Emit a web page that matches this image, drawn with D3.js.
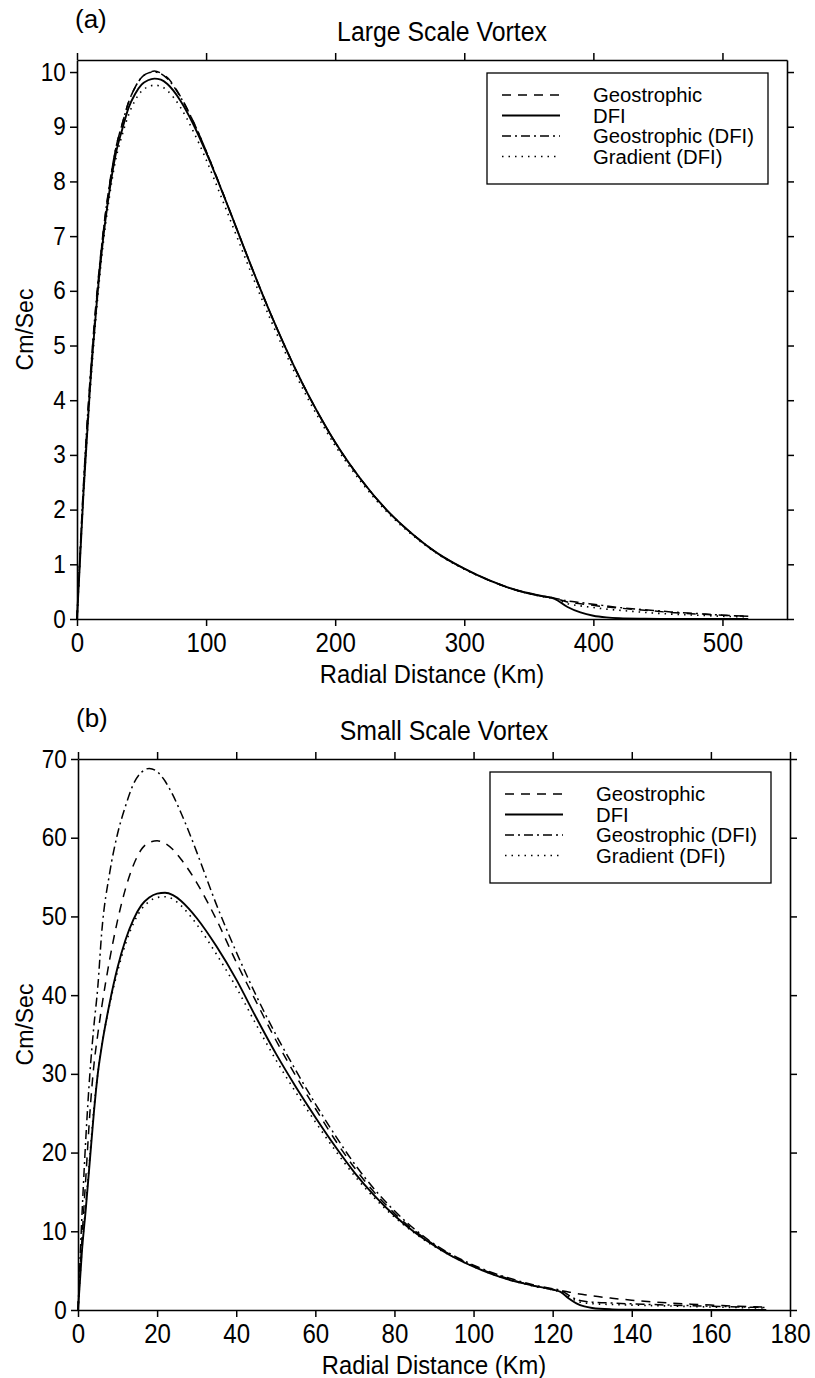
<!DOCTYPE html>
<html>
<head>
<meta charset="utf-8">
<script src="https://cdn.jsdelivr.net/npm/d3@7/dist/d3.min.js"></script>
<style>
body { margin: 0; background: #fff; }
text { font-family: "Liberation Sans", Arial, Helvetica, sans-serif; fill: #000; }
</style>
</head>
<body>
<svg id="chart" width="815" height="1378"></svg>
<script>
var seriesNames = ["Geostrophic", "DFI", "Geostrophic (DFI)", "Gradient (DFI)"];

// (a) large scale vortex, km / cm per sec
var largeX = [0, 5, 10, 15, 20, 25, 30, 35, 40, 45, 50, 55, 60, 65, 70, 80, 90, 100, 110, 120, 130, 140, 150, 160, 170, 180, 190, 200, 220, 240, 260, 280, 300, 320, 340, 360, 370, 380, 390, 400, 410, 420, 440, 460, 480, 500, 520];
var largeGeo = [0, 2.4, 4.3, 5.8, 7.0, 7.9, 8.6, 9.05, 9.45, 9.72, 9.9, 9.98, 10.02, 9.98, 9.9, 9.56, 9.1, 8.56, 7.97, 7.36, 6.75, 6.15, 5.58, 5.04, 4.53, 4.06, 3.63, 3.23, 2.55, 1.99, 1.55, 1.19, 0.92, 0.7, 0.53, 0.42, 0.38, 0.31, 0.28, 0.25, 0.22, 0.2, 0.16, 0.12, 0.09, 0.07, 0.05];
var largeDfi = [0, 2.3, 4.2, 5.7, 6.9, 7.8, 8.5, 8.95, 9.35, 9.6, 9.77, 9.85, 9.88, 9.86, 9.78, 9.48, 9.05, 8.53, 7.96, 7.36, 6.75, 6.15, 5.58, 5.04, 4.53, 4.06, 3.63, 3.23, 2.55, 1.99, 1.55, 1.19, 0.92, 0.7, 0.53, 0.42, 0.37, 0.22, 0.12, 0.06, 0.03, 0.015, 0.005, 0, 0, 0, 0];
var largeGeoDfi = [0, 2.45, 4.35, 5.85, 7.02, 7.92, 8.6, 9.05, 9.45, 9.72, 9.9, 9.98, 10.0, 9.97, 9.88, 9.55, 9.1, 8.56, 7.97, 7.36, 6.75, 6.15, 5.58, 5.04, 4.53, 4.06, 3.63, 3.23, 2.55, 1.99, 1.55, 1.19, 0.92, 0.7, 0.53, 0.42, 0.38, 0.33, 0.3, 0.27, 0.24, 0.21, 0.17, 0.13, 0.1, 0.07, 0.05];
var largeGrad = [0, 2.25, 4.1, 5.6, 6.8, 7.7, 8.4, 8.85, 9.22, 9.48, 9.65, 9.73, 9.76, 9.74, 9.66, 9.36, 8.92, 8.4, 7.82, 7.22, 6.62, 6.03, 5.47, 4.94, 4.44, 3.98, 3.56, 3.17, 2.51, 1.96, 1.53, 1.18, 0.91, 0.7, 0.53, 0.41, 0.37, 0.28, 0.24, 0.21, 0.18, 0.16, 0.12, 0.09, 0.07, 0.05, 0.04];
var largeXTicks = [0, 100, 200, 300, 400, 500];
var largeYTicks = [0, 1, 2, 3, 4, 5, 6, 7, 8, 9, 10];

// (b) small scale vortex
var smallX = [0, 1, 2, 3, 4, 5, 6, 8, 10, 12, 14, 16, 18, 20, 22, 24, 26, 28, 30, 35, 40, 45, 50, 55, 60, 65, 70, 75, 80, 85, 90, 95, 100, 105, 110, 115, 120, 122, 124, 126, 128, 130, 135, 140, 145, 150, 155, 160, 165, 170, 174];
var smallGeo = [0, 9, 17, 25, 31, 35, 38.5, 44.5, 49.5, 53.5, 56.5, 58.5, 59.4, 59.6, 59.3, 58.5, 57.3, 55.9, 54.3, 49.6, 44.2, 39.2, 34.3, 29.8, 25.6, 21.6, 18.0, 14.9, 12.3, 10.1, 8.3, 6.8, 5.6, 4.6, 3.8, 3.1, 2.6, 2.45, 2.3, 2.1, 1.95, 1.8, 1.5, 1.25, 1.05, 0.88, 0.74, 0.62, 0.52, 0.42, 0.36];
var smallDfi = [0, 7.5, 13, 19, 25, 30, 33.5, 39, 43.5, 47, 49.6, 51.4, 52.4, 52.9, 53.0, 52.7, 52.0, 51.0, 49.8, 46.2, 42.0, 37.2, 32.6, 28.4, 24.5, 20.8, 17.4, 14.5, 12.0, 9.9, 8.2, 6.7, 5.5, 4.5, 3.7, 3.1, 2.6, 2.3, 1.5, 0.85, 0.45, 0.25, 0.08, 0.03, 0.01, 0, 0, 0, 0, 0, 0];
var smallGeoDfi = [0, 12, 22, 30, 36, 41, 48, 55.5, 60.5, 64, 66.8, 68.3, 68.8, 68.4, 67.2, 65.4, 63.2, 60.8, 58.2, 51.5, 45.5, 40.0, 35.0, 30.5, 26.2, 22.2, 18.5, 15.3, 12.6, 10.3, 8.4, 6.9, 5.7, 4.7, 3.9, 3.2, 2.7, 2.5, 1.9, 1.35, 1.1, 1.0, 0.88, 0.78, 0.7, 0.62, 0.55, 0.48, 0.42, 0.36, 0.3];
var smallGrad = [0, 7.8, 13.5, 19.5, 25.5, 30, 33.5, 38.8, 43, 46.5, 49.1, 50.9, 51.9, 52.4, 52.5, 52.2, 51.4, 50.3, 49.0, 45.2, 41.0, 36.3, 31.8, 27.7, 23.9, 20.3, 17.0, 14.2, 11.8, 9.8, 8.1, 6.7, 5.5, 4.5, 3.7, 3.05, 2.55, 2.3, 1.7, 1.15, 0.9, 0.8, 0.7, 0.62, 0.56, 0.5, 0.44, 0.38, 0.33, 0.28, 0.24];
var smallXTicks = [0, 20, 40, 60, 80, 100, 120, 140, 160, 180];
var smallYTicks = [0, 10, 20, 30, 40, 50, 60, 70];

var dashes = ["9,7", null, "9,4,2,4", "1.5,5"];
var widths = [1.5, 1.9, 1.5, 1.6];

var svg = d3.select("#chart");

function styleTicks(axisG, size, sx) {
	axisG.attr("font-size", null).attr("font-family", null);
	axisG.select(".domain").attr("stroke-width", 1.6);
	axisG.selectAll(".tick line").attr("stroke-width", 1.5);
	axisG.selectAll("text")
		.style("font-size", size + "px")
		.attr("transform", "scale(" + sx + ",1)");
}

function drawPanel(p) {
	var g = svg.append("g");
	var x = d3.scaleLinear().domain([0, p.xMax]).range([p.left, p.right]);
	var y = d3.scaleLinear().domain([0, p.yMax]).range([p.bottom, p.top]);

	var bottomAxis = g.append("g")
		.attr("transform", "translate(0," + p.bottom + ")")
		.call(d3.axisBottom(x).tickValues(p.xTicks).tickSize(7).tickSizeOuter(0));
	styleTicks(bottomAxis, 28, 0.86);
	bottomAxis.selectAll("text").attr("y", 13);

	var topAxis = g.append("g")
		.attr("transform", "translate(0," + p.top + ")")
		.call(d3.axisTop(x).tickValues(p.xTicks).tickSize(7).tickSizeOuter(0).tickFormat(""));
	styleTicks(topAxis, 10, 1);

	var leftAxis = g.append("g")
		.attr("transform", "translate(" + p.left + ",0)")
		.call(d3.axisLeft(y).tickValues(p.yTicks).tickSize(7).tickSizeOuter(0));
	styleTicks(leftAxis, 25, 0.9);
	leftAxis.selectAll("text").attr("x", -12.5);

	var rightAxis = g.append("g")
		.attr("transform", "translate(" + p.right + ",0)")
		.call(d3.axisRight(y).tickValues(p.yTicks).tickSize(7).tickSizeOuter(0).tickFormat(""));
	styleTicks(rightAxis, 10, 1);

	var line = d3.line()
		.x(function (d) { return x(d[0]); })
		.y(function (d) { return y(d[1]); })
		.curve(d3.curveMonotoneX);

	p.series.forEach(function (vals, i) {
		var pts = p.xs.map(function (v, j) { return [v, vals[j]]; });
		g.append("path")
			.datum(pts)
			.attr("d", line)
			.attr("fill", "none")
			.attr("stroke", "#000")
			.attr("stroke-width", widths[i])
			.attr("stroke-dasharray", dashes[i]);
	});

	// legend
	var lx = p.right - 300, ly = p.top + 13;
	var leg = g.append("g").attr("transform", "translate(" + lx + "," + ly + ")");
	leg.append("rect")
		.attr("width", 281).attr("height", 111)
		.attr("fill", "#fff").attr("stroke", "#000").attr("stroke-width", 1.3);
	seriesNames.forEach(function (name, i) {
		var yy = 22 + i * 20.5;
		leg.append("line")
			.attr("x1", 15).attr("x2", 73).attr("y1", yy).attr("y2", yy)
			.attr("stroke", "#000")
			.attr("stroke-width", widths[i])
			.attr("stroke-dasharray", dashes[i]);
		leg.append("text")
			.attr("transform", "translate(106," + yy + ") scale(1.04,1)")
			.attr("dy", "0.36em")
			.style("font-size", "19.5px")
			.text(name);
	});

	var cx = (p.left + p.right) / 2;
	g.append("text")
		.attr("transform", "translate(" + (cx + 10) + "," + (p.top - 19) + ") scale(0.92,1)")
		.attr("text-anchor", "middle")
		.style("font-size", "27px")
		.text(p.title);
	g.append("text")
		.attr("transform", "translate(" + (p.left - 2) + "," + (p.top - 32) + ")")
		.style("font-size", "26px")
		.text(p.tag);
	g.append("text")
		.attr("transform", "translate(" + cx + "," + (p.bottom + 64) + ") scale(0.95,1)")
		.attr("text-anchor", "middle")
		.style("font-size", "25px")
		.text("Radial Distance (Km)");
	g.append("text")
		.attr("transform", "translate(33," + ((p.top + p.bottom) / 2 - 10) + ") rotate(-90)")
		.attr("text-anchor", "middle")
		.style("font-size", "23px")
		.text("Cm/Sec");
}

drawPanel({
	left: 77, right: 787, top: 60, bottom: 619,
	xMax: 550, yMax: 10.22,
	xTicks: largeXTicks, yTicks: largeYTicks,
	xs: largeX,
	series: [largeGeo, largeDfi, largeGeoDfi, largeGrad],
	title: "Large Scale Vortex", tag: "(a)"
});

drawPanel({
	left: 78, right: 790, top: 759, bottom: 1310,
	xMax: 180, yMax: 70,
	xTicks: smallXTicks, yTicks: smallYTicks,
	xs: smallX,
	series: [smallGeo, smallDfi, smallGeoDfi, smallGrad],
	title: "Small Scale Vortex", tag: "(b)"
});
</script>
</body>
</html>
